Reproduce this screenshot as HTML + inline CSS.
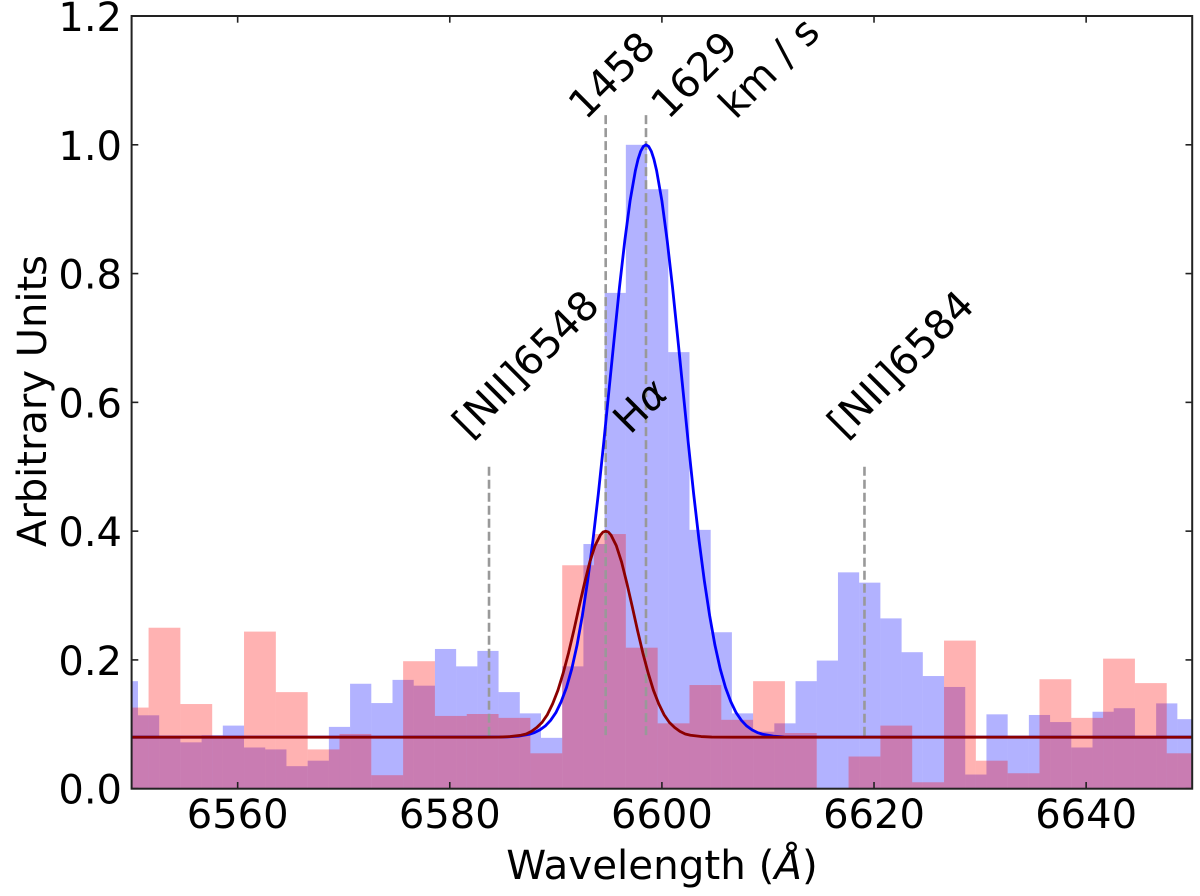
<!DOCTYPE html>
<html lang="en">
<head>
<meta charset="utf-8">
<title>Spectrum</title>
<style>
html,body{margin:0;padding:0;background:#fff;}
svg{display:block;}
text{font-family:"DejaVu Sans","Liberation Sans",sans-serif;fill:#000;}
</style>
</head>
<body>
<svg id="chart" width="1200" height="896" viewBox="0 0 1200 896" xmlns="http://www.w3.org/2000/svg">
  <defs><clipPath id="plot-clip"><rect x="131.6" y="16" width="1060.6" height="772.7"></rect></clipPath></defs>
  <g id="hist-blue" clip-path="url(#plot-clip)"></g>
  <g id="hist-red" clip-path="url(#plot-clip)"></g>
  <g id="refs" clip-path="url(#plot-clip)"></g>
  <g id="curves" clip-path="url(#plot-clip)"></g>
  <g id="ticks"></g>
  <rect x="131.6" y="16" width="1060.6" height="772.7" fill="none" stroke="#222" stroke-width="2"></rect>
  <g id="tick-labels" font-size="40"></g>
  <text x="662" y="879" font-size="40.4" text-anchor="middle">Wavelength (<tspan font-style="italic">Å</tspan>)</text>
  <text transform="translate(46 401) rotate(-90)" font-size="40" text-anchor="middle">Arbitrary Units</text>
  <text transform="translate(585.5 121) rotate(-45)" font-size="40">1458</text>
  <text transform="translate(668 120.5) rotate(-45)" font-size="40">1629</text>
  <text transform="translate(735.5 120.5) rotate(-45)" font-size="40">km / s</text>
  <text transform="translate(469.5 439.5) rotate(-45)" font-size="40">[NII]6548</text>
  <text transform="translate(630 435.5) rotate(-45)" font-size="40">H<tspan font-style="italic">α</tspan></text>
  <text transform="translate(844.5 439.5) rotate(-45)" font-size="40">[NII]6584</text>
</svg>
<script>
const blueStart = 6548.6;
const blueBinWidth = 2;
const blueCounts = [0.167,0.114,0.082,0.072,0.083,0.098,0.064,0.061,0.035,0.0435,0.096,0.163,0.133,0.169,0.160,0.217,0.190,0.214,0.150,0.117,0.079,0.190,0.380,0.770,1.0,0.931,0.678,0.402,0.243,0.117,0.0885,0.1015,0.167,0.199,0.336,0.320,0.2645,0.212,0.175,0.158,0.022,0.1155,0.082,0.1145,0.1035,0.064,0.1195,0.125,0.081,0.1325,0.108];
const redStart = 6548.6;
const redBinWidth = 3;
const redCounts = [0.126,0.25,0.1315,0.082,0.244,0.15,0.061,0.085,0.021,0.198,0.113,0.116,0.11,0.055,0.347,0.3955,0.219,0.1015,0.161,0.107,0.167,0.0865,0,0.05,0.098,0.01,0.23,0.0435,0.024,0.17,0.11,0.202,0.164,0.055];

const blueCurveX = [6550,6584.5,6585.5,6586.5,6587.5,6588,6588.5,6589,6589.5,6590,6590.5,6591,6591.5,6592,6592.5,6593,6593.5,6594,6594.5,6595,6595.5,6596,6596.5,6597,6597.5,6597.75,6598,6598.25,6598.5,6598.75,6599,6599.25,6599.5,6600,6600.5,6601,6601.5,6602,6602.5,6603,6603.5,6604,6604.5,6605,6605.5,6606,6606.5,6607,6607.5,6608,6608.5,6609,6609.5,6610.5,6611.5,6612.5,6650];
const blueCurveY = [0.08,0.0802,0.0805,0.0816,0.0845,0.0872,0.0913,0.0973,0.106,0.118,0.135,0.157,0.186,0.223,0.269,0.323,0.386,0.457,0.535,0.617,0.699,0.779,0.851,0.913,0.960,0.9775,0.990,0.9975,1.0,0.9975,0.990,0.9775,0.960,0.913,0.851,0.779,0.699,0.617,0.535,0.457,0.386,0.323,0.269,0.223,0.186,0.157,0.135,0.118,0.106,0.0973,0.0913,0.0872,0.0845,0.0816,0.0805,0.0802,0.08];
const redCurveX = [6550,6582.7,6584.7,6585.7,6586.7,6587.2,6587.7,6588.2,6588.7,6589.2,6589.7,6590.2,6590.7,6591.2,6591.7,6592.2,6592.7,6593.2,6593.7,6594.2,6594.45,6594.7,6594.95,6595.2,6595.7,6596.2,6596.7,6597.2,6597.7,6598.2,6598.7,6599.2,6599.7,6600.2,6600.7,6601.2,6601.7,6602.2,6602.7,6603.7,6604.7,6606.7,6650];
const redCurveY = [0.08,0.08,0.0802,0.081,0.083,0.085,0.089,0.095,0.103,0.115,0.132,0.153,0.180,0.211,0.246,0.283,0.319,0.352,0.3775,0.394,0.3986,0.4,0.3986,0.394,0.3775,0.352,0.319,0.283,0.246,0.211,0.180,0.153,0.132,0.115,0.103,0.095,0.089,0.085,0.083,0.081,0.0802,0.08,0.08];

const refWavelengths = [6583.7,6594.7,6598.5,6619.1];
const refTops = [0.5,1.046,1.046,0.5];
const refBottom = 0.08;

const xTickValues = [6560,6580,6600,6620,6640];
const yTickValues = [0,0.2,0.4,0.6,0.8,1.0,1.2];
const yTickLabels = ['0.0','0.2','0.4','0.6','0.8','1.0','1.2'];

const NS = 'http://www.w3.org/2000/svg';
const xScale = function (v) { return 131.6 + (v - 6550) * 10.606; };
const yScale = function (v) { return 788.7 - v * 643.9; };

function mk(tag) { return document.createElementNS(NS, tag); }

function drawBars(parent, start, width, values, fill) {
  values.forEach(function (v, i) {
    const r = mk('rect');
    
    
    const x0 = xScale(start + i * width);
    const x1 = xScale(start + (i + 1) * width);
    r.setAttribute('x', x0);
    r.setAttribute('width', x1 - x0);
    r.setAttribute('y', yScale(v));
    r.setAttribute('height', yScale(0) - yScale(v));
    r.setAttribute('fill', fill);
    r.setAttribute('fill-opacity', '0.3');
    parent.appendChild(r);
  });
}
drawBars(document.getElementById('hist-blue'), blueStart, blueBinWidth, blueCounts, '#0000ff');
drawBars(document.getElementById('hist-red'), redStart, redBinWidth, redCounts, '#ff0000');

const refsG = document.getElementById('refs');
refWavelengths.forEach(function (w, i) {
  const l = mk('line');
  
  
  l.setAttribute('x1', xScale(w));
  l.setAttribute('x2', xScale(w));
  l.setAttribute('y1', yScale(refTops[i]));
  l.setAttribute('y2', yScale(refBottom));
  l.setAttribute('stroke', '#999999');
  l.setAttribute('stroke-width', '2.6');
  l.setAttribute('stroke-dasharray', '9 4');
  refsG.appendChild(l);
});

function drawCurve(xs, ys, color, name) {
  const p = mk('polyline');
  
  
  p.setAttribute('points', xs.map(function (x, i) { return xScale(x) + ',' + yScale(ys[i]); }).join(' '));
  p.setAttribute('fill', 'none');
  p.setAttribute('stroke', color);
  p.setAttribute('stroke-width', '2.8');
  p.setAttribute('stroke-linejoin', 'round');
  document.getElementById('curves').appendChild(p);
}
drawCurve(blueCurveX, blueCurveY, '#0000ff', 'blue-gaussian-line');
drawCurve(redCurveX, redCurveY, '#8b0000', 'red-gaussian-line');

const ticksG = document.getElementById('ticks');
const labelsG = document.getElementById('tick-labels');
function tick(x1, y1, x2, y2) {
  const t = mk('line');
  
  
  t.setAttribute('x1', x1);
  t.setAttribute('y1', y1);
  t.setAttribute('x2', x2);
  t.setAttribute('y2', y2);
  t.setAttribute('stroke', '#222');
  t.setAttribute('stroke-width', '1.6');
  ticksG.appendChild(t);
}
xTickValues.forEach(function (v) {
  const x = xScale(v);
  tick(x, 788.7, x, 782);
  tick(x, 16, x, 22.7);
  const s = mk('text');
  
  
  s.setAttribute('x', x);
  s.setAttribute('y', 828);
  s.setAttribute('text-anchor', 'middle');
  s.textContent = String(v);
  labelsG.appendChild(s);
});
yTickValues.forEach(function (v, i) {
  const y = yScale(v);
  tick(131.6, y, 138.3, y);
  tick(1192.2, y, 1185.5, y);
  const s = mk('text');
  
  
  s.setAttribute('x', 122);
  s.setAttribute('y', y + 15);
  s.setAttribute('text-anchor', 'end');
  s.textContent = yTickLabels[i];
  labelsG.appendChild(s);
});
</script>
</body>
</html>
